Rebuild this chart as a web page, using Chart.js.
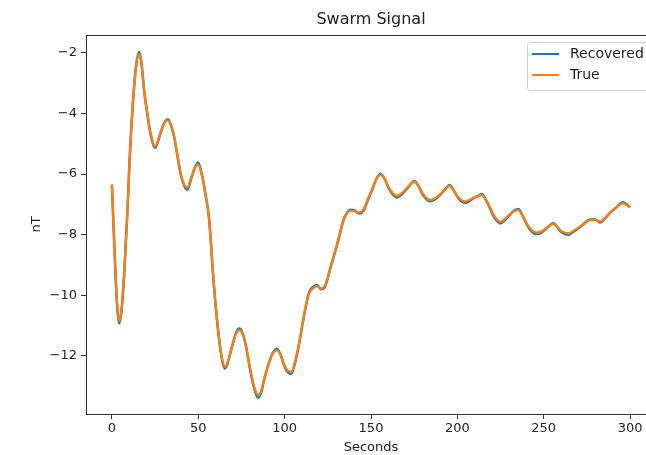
<!DOCTYPE html>
<html>
<head>
<meta charset="utf-8">
<script src="https://cdn.jsdelivr.net/npm/chart.js@4.4.0/dist/chart.umd.min.js"></script>
<style>
  html, body { margin: 0; padding: 0; background: #fff; overflow: hidden; }
  #wrap { width: 646px; height: 455px; overflow: hidden; }
</style>
</head>
<body>
<div id="wrap"><canvas id="swarmChart" width="660" height="455"></canvas></div>
<script>
// data
const seconds = [0, 1.3, 2.9, 4.2, 5.5, 7.1, 9.1, 10.2, 12, 13.9, 15.8, 17, 18.7, 20.5, 22.2, 25, 28.3, 30.5, 32.5, 34.5, 36, 39.9, 42, 43.7, 46, 48, 49.9, 52.2, 54, 56.2, 59, 62, 63.8, 65.3, 66.5, 67.8, 70, 72, 74.1, 75.8, 77.4, 80.3, 82.5, 84.6, 86.5, 88, 90, 92.5, 95.4, 97.5, 99.6, 101.5, 103.8, 106, 108.3, 110.3, 112.1, 114, 115.9, 118.8, 121, 123, 124.8, 126.5, 130.4, 134.2, 136, 138.1, 140.5, 142.9, 145.8, 148, 150.7, 153, 155.5, 157.8, 160.3, 162.5, 165.1, 168, 171.8, 175.1, 177.5, 180, 184.4, 187, 190.2, 193, 195.5, 198, 201, 204.6, 207, 209.4, 212, 214.3, 216, 218.1, 221, 224.9, 227.5, 230.6, 233, 235.4, 237.5, 240.3, 243, 246, 248.5, 250.8, 253, 255.6, 257.5, 259.5, 262, 264.3, 267, 270.1, 273.5, 276.9, 280, 282.7, 285.5, 288.4, 292, 295.8, 298, 300];

const trueNT = [-6.35, -8.2, -10.2, -10.85, -10.5, -9.3, -7.1, -5.6, -3.8, -2.5, -2.03, -2.3, -3.25, -4.0, -4.6, -5.08, -4.6, -4.3, -4.22, -4.45, -4.75, -6.0, -6.35, -6.45, -6.1, -5.8, -5.68, -6.06, -6.6, -7.43, -9.63, -11.4, -12.1, -12.36, -12.3, -12.06, -11.6, -11.25, -11.15, -11.3, -11.6, -12.5, -13.05, -13.3, -13.15, -12.8, -12.39, -12.0, -11.81, -11.95, -12.27, -12.48, -12.53, -12.2, -11.61, -10.95, -10.4, -9.95, -9.8, -9.7, -9.78, -9.72, -9.45, -9.09, -8.31, -7.49, -7.3, -7.21, -7.22, -7.27, -7.16, -6.85, -6.5, -6.18, -6.03, -6.15, -6.44, -6.62, -6.72, -6.62, -6.4, -6.25, -6.4, -6.65, -6.86, -6.8, -6.66, -6.5, -6.39, -6.55, -6.8, -6.9, -6.85, -6.78, -6.72, -6.69, -6.8, -7.0, -7.35, -7.58, -7.48, -7.32, -7.22, -7.19, -7.35, -7.65, -7.85, -7.93, -7.9, -7.82, -7.72, -7.65, -7.72, -7.85, -7.93, -7.96, -7.88, -7.77, -7.62, -7.52, -7.52, -7.57, -7.45, -7.27, -7.1, -6.97, -7.02, -7.1];

const recoveredNT = [-6.35, -8.22, -10.25, -10.93, -10.55, -9.32, -7.1, -5.58, -3.78, -2.47, -1.97, -2.28, -3.26, -4.02, -4.63, -5.13, -4.62, -4.29, -4.19, -4.44, -4.77, -6.03, -6.4, -6.52, -6.13, -5.79, -5.62, -6.05, -6.62, -7.45, -9.65, -11.43, -12.14, -12.42, -12.34, -12.08, -11.6, -11.22, -11.1, -11.28, -11.62, -12.54, -13.1, -13.38, -13.2, -12.83, -12.41, -11.98, -11.77, -11.94, -12.3, -12.52, -12.6, -12.24, -11.63, -10.97, -10.42, -9.93, -9.75, -9.66, -9.8, -9.76, -9.47, -9.1, -8.33, -7.5, -7.28, -7.18, -7.2, -7.3, -7.2, -6.88, -6.52, -6.17, -6.0, -6.15, -6.47, -6.66, -6.77, -6.66, -6.42, -6.23, -6.4, -6.68, -6.9, -6.84, -6.68, -6.5, -6.36, -6.55, -6.83, -6.95, -6.89, -6.8, -6.72, -6.66, -6.8, -7.03, -7.4, -7.63, -7.52, -7.33, -7.2, -7.15, -7.34, -7.68, -7.9, -7.98, -7.94, -7.84, -7.72, -7.62, -7.72, -7.88, -7.97, -8.0, -7.91, -7.79, -7.63, -7.5, -7.5, -7.6, -7.47, -7.28, -7.1, -6.93, -7.0, -7.1];

const xTicks = [0, 50, 100, 150, 200, 250, 300];
const yTicks = [-12, -10, -8, -6, -4, -2];

const blue = '#1f77b4';
const orange = '#ff7f0e';
const font = 'DejaVu Sans';

const toPoints = (xs, ys) => xs.map((x, i) => ({x: x, y: ys[i]}));
const minus = (v) => String(v).replace('-', '\u2212');

// title, frame and legend drawn the matplotlib way
const extras = {
  id: 'extras',
  afterDraw(chart) {
    const {ctx, chartArea} = chart;
    ctx.save();
    ctx.strokeStyle = '#333';
    ctx.lineWidth = 1;
    ctx.strokeRect(chartArea.left + 0.5, chartArea.top + 0.5, chartArea.right - chartArea.left, chartArea.bottom - chartArea.top);

    ctx.fillStyle = '#222';
    ctx.font = '16px "' + font + '"';
    ctx.textAlign = 'center';
    ctx.textBaseline = 'middle';
    ctx.fillText('Swarm Signal', (chartArea.left + chartArea.right) / 2, 20);

    // legend box
    const bx = 527, by = 42, bw = 123, bh = 48;
    ctx.beginPath();
    ctx.roundRect(bx + 0.5, by + 0.5, bw, bh, 3);
    ctx.fillStyle = 'rgba(255,255,255,0.8)';
    ctx.fill();
    ctx.strokeStyle = '#d0d0d0';
    ctx.stroke();

    const items = [['Recovered', blue], ['True', orange]];
    ctx.font = '14px "' + font + '"';
    ctx.textAlign = 'left';
    items.forEach(([label, color], i) => {
      const y = 54 + i * 21;
      ctx.strokeStyle = color;
      ctx.lineWidth = 2;
      ctx.beginPath();
      ctx.moveTo(532, y);
      ctx.lineTo(559, y);
      ctx.stroke();
      ctx.fillStyle = '#222';
      ctx.fillText(label, 570, y);
    });
    ctx.restore();
  }
};

const chart = new Chart(document.getElementById('swarmChart'), {
  type: 'line',
  data: {
    datasets: [
      {
        label: 'Recovered',
        data: toPoints(seconds, recoveredNT),
        borderColor: blue,
        borderWidth: 2.5,
        pointRadius: 0,
        cubicInterpolationMode: 'monotone',
        order: 1
      },
      {
        label: 'True',
        data: toPoints(seconds, trueNT),
        borderColor: orange,
        borderWidth: 2.3,
        pointRadius: 0,
        cubicInterpolationMode: 'monotone',
        order: 0
      }
    ]
  },
  options: {
    responsive: false,
    animation: false,
    events: [],
    layout: { padding: { top: 35, right: 4, left: 0, bottom: 0 } },
    plugins: {
      legend: { display: false },
      title: { display: false },
      tooltip: { enabled: false }
    },
    scales: {
      x: {
        type: 'linear',
        min: -15,
        max: 315,
        afterBuildTicks: (scale) => { scale.ticks = xTicks.map(v => ({value: v})); },
        afterFit: (scale) => { scale.height = 41; },
        grid: { drawOnChartArea: false, drawTicks: true, tickLength: 5, tickColor: '#333' },
        border: { color: '#333' },
        ticks: { color: '#222', font: { family: font, size: 13 }, padding: 2, maxRotation: 0 },
        title: { display: true, text: 'Seconds', color: '#222', font: { family: font, size: 13 }, padding: { top: 0, bottom: 0 } }
      },
      y: {
        type: 'linear',
        min: -13.92,
        max: -1.41,
        afterBuildTicks: (scale) => { scale.ticks = yTicks.map(v => ({value: v})); },
        afterFit: (scale) => { scale.width = 86; },
        grid: { drawOnChartArea: false, drawTicks: true, tickLength: 5, tickColor: '#333' },
        border: { color: '#333' },
        ticks: { color: '#222', font: { family: font, size: 13 }, padding: 4, callback: (v) => minus(v) },
        title: { display: true, text: 'nT', color: '#222', font: { family: font, size: 13 }, padding: { top: 29, bottom: 0 } }
      }
    }
  },
  plugins: [extras]
});
</script>
</body>
</html>
